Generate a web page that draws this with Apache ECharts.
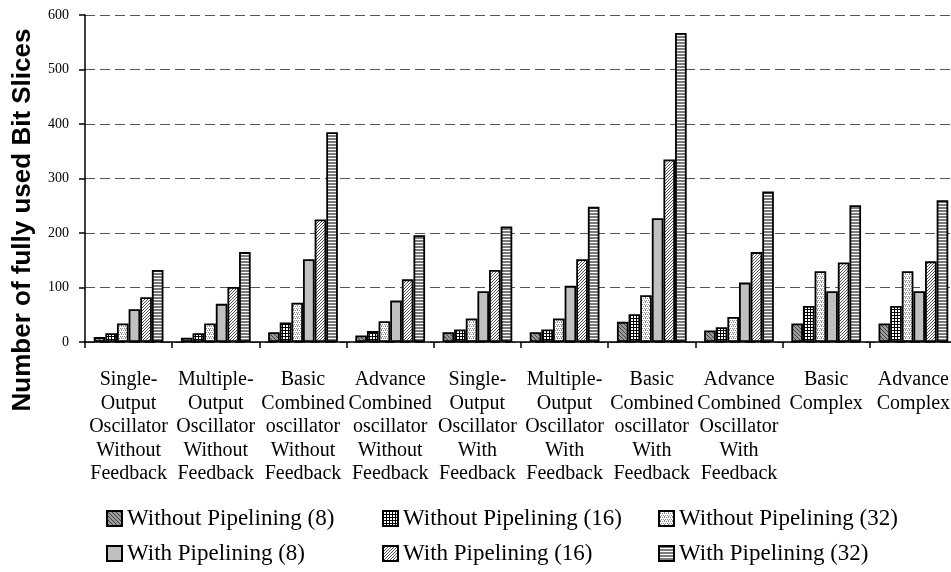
<!DOCTYPE html>
<html><head><meta charset="utf-8">
<script src="https://cdn.jsdelivr.net/npm/echarts@6/dist/echarts.min.js"></script>
<style>html,body{margin:0;padding:0;background:#fff}#c{width:951px;height:572px}</style>
</head><body><div id="c"></div>
<script>
const categories = [
  'Single-\nOutput\nOscillator\nWithout\nFeedback',
  'Multiple-\nOutput\nOscillator\nWithout\nFeedback',
  'Basic\nCombined\noscillator\nWithout\nFeedback',
  'Advance\nCombined\noscillator\nWithout\nFeedback',
  'Single-\nOutput\nOscillator\nWith\nFeedback',
  'Multiple-\nOutput\nOscillator\nWith\nFeedback',
  'Basic\nCombined\noscillator\nWith\nFeedback',
  'Advance\nCombined\nOscillator\nWith\nFeedback',
  'Basic\nComplex',
  'Advance\nComplex'
];
const seriesNames = [
  'Without Pipelining (8)', 'Without Pipelining (16)', 'Without Pipelining (32)',
  'With Pipelining (8)', 'With Pipelining (16)', 'With Pipelining (32)'
];
const withoutPipelining8  = [9, 8, 18, 12, 18, 18, 37, 21, 34, 34];
const withoutPipelining16 = [16, 16, 36, 20, 23, 23, 51, 27, 66, 66];
const withoutPipelining32 = [34, 34, 72, 38, 43, 43, 86, 46, 130, 130];
const withPipelining8     = [60, 70, 152, 76, 93, 103, 227, 109, 93, 93];
const withPipelining16    = [82, 101, 225, 115, 132, 152, 335, 165, 146, 148];
const withPipelining32    = [132, 165, 385, 196, 212, 248, 567, 276, 251, 260];
const yTickValues = [0, 100, 200, 300, 400, 500, 600];

function makePattern(w, h, bg, fg, pixels) {
  const c = document.createElement('canvas');
  c.width = w; c.height = h;
  const ctx = c.getContext('2d');
  ctx.fillStyle = bg; ctx.fillRect(0, 0, w, h);
  ctx.fillStyle = fg;
  pixels.forEach(p => ctx.fillRect(p[0], p[1], 1, 1));
  return { image: c, repeat: 'repeat' };
}
const patterns = [
  makePattern(4, 4, '#9a9a9a', '#404040', [[0,0],[1,1],[2,2],[3,3]]),
  makePattern(3, 3, '#ffffff', '#000000', [[0,0],[1,0],[2,0],[0,1],[0,2]]),
  makePattern(4, 4, '#ffffff', '#8a8a8a', [[0,0],[2,0],[1,2],[3,2],[1,1]]),
  '#c0c0c0',
  makePattern(3, 3, '#ffffff', '#505050', [[0,2],[1,1],[2,0]]),
  makePattern(1, 3, '#7a7a7a', '#ffffff', [[0,2]])
];
const seriesData = [withoutPipelining8, withoutPipelining16, withoutPipelining32,
                    withPipelining8, withPipelining16, withPipelining32];

const serif = '"Liberation Serif", "Times New Roman", serif';
const chart = echarts.init(document.getElementById('c'));
const legendCommon = {
  orient: 'vertical', top: 507, padding: 0, itemGap: 12,
  itemWidth: 15, itemHeight: 15, icon: 'rect',
  textStyle: { fontFamily: serif, fontSize: 23, color: '#000', lineHeight: 23 }
};
chart.setOption({
  animation: false,
  backgroundColor: '#fff',
  grid: { left: 85, right: -6, top: 15, bottom: 230, containLabel: false, outerBoundsMode: 'none' },
  legend: [
    Object.assign({ left: 106, data: [seriesNames[0], seriesNames[3]] }, legendCommon),
    Object.assign({ left: 382, data: [seriesNames[1], seriesNames[4]] }, legendCommon),
    Object.assign({ left: 658, data: [seriesNames[2], seriesNames[5]] }, legendCommon)
  ],
  graphic: [{
    type: 'text', x: 23, y: 220, rotation: Math.PI / 2,
    style: {
      text: 'Number of fully used Bit Slices',
      fontFamily: '"Liberation Sans", Arial, sans-serif', fontWeight: 'bold', fontSize: 26,
      fill: '#000', align: 'center', verticalAlign: 'middle'
    }
  }],
  xAxis: {
    type: 'category', data: categories,
    axisLine: { lineStyle: { color: '#000', width: 1.5 } },
    axisTick: { show: true, length: 6, lineStyle: { color: '#000', width: 1.5 } },
    axisLabel: { interval: 0, color: '#000', fontFamily: serif, fontSize: 20, lineHeight: 23.5, margin: 26 }
  },
  yAxis: {
    type: 'value', min: yTickValues[0], max: yTickValues[yTickValues.length - 1], interval: 100,
    axisLine: { show: true, lineStyle: { color: '#000', width: 1.5 } },
    axisTick: { show: true, length: 6, lineStyle: { color: '#000', width: 1.5 } },
    axisLabel: { color: '#000', fontFamily: serif, fontSize: 14, margin: 16 },
    splitLine: { show: true, lineStyle: { color: '#555', width: 1, type: [10, 5] } }
  },
  series: seriesNames.map((n, i) => ({
    name: n, type: 'bar', data: seriesData[i],
    barGap: '0%', barCategoryGap: '20%',
    itemStyle: { color: patterns[i], borderColor: '#000', borderWidth: 1.8 },
    emphasis: { disabled: true }
  }))
});
</script></body></html>
